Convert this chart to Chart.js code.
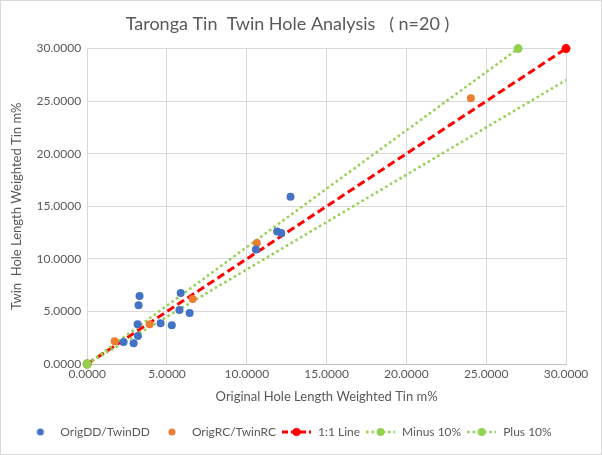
<!DOCTYPE html>
<html><head><meta charset="utf-8">
<script src="https://cdn.jsdelivr.net/npm/chart.js@4.4.1/dist/chart.umd.min.js"></script>
<style>
html,body{margin:0;padding:0;background:#fff;}
#wrap{position:absolute;left:0;top:0;width:600px;height:453px;border:1px solid #d9d9d9;}
</style></head>
<body><div id="wrap"><canvas id="c" width="600" height="453"></canvas></div>
<script>
const ddX = [3.28, 3.22, 5.86, 5.78, 6.42, 3.16, 4.60, 5.30, 3.18, 2.28, 2.91, 12.74, 11.90, 12.16, 10.57];
const ddY = [6.47, 5.60, 6.75, 5.13, 4.84, 3.79, 3.88, 3.69, 2.67, 2.10, 1.97, 15.90, 12.60, 12.45, 10.90];
const rcX = [6.61, 3.91, 1.72, 10.63, 24.04];
const rcY = [6.18, 3.79, 2.17, 11.50, 25.28];
const oneX = [0, 30], oneY = [0, 30];
const minusX = [0, 33.333], minusY = [0, 30];
const plusX = [0, 27], plusY = [0, 30];
const ticks = [0, 5, 10, 15, 20, 25, 30];

const zip = (xs, ys) => xs.map((x, i) => ({x: x, y: ys[i]}));
const grey = '#595959';
const FONT = 'Lato';
const ICON_W = 31;

function legendIcon(kind, color) {
  const c = document.createElement('canvas');
  const w = ICON_W, h = 12;
  c.width = w; c.height = h;
  const g = c.getContext('2d');
  if (kind === 'dot') {
    g.fillStyle = color; g.beginPath(); g.arc(17, 6, 3.5, 0, Math.PI * 2); g.fill();
  } else {
    g.strokeStyle = color;
    if (kind === 'dash') { g.lineWidth = 3; g.setLineDash([6, 3]); }
    else { g.lineWidth = 2.5; g.setLineDash([2.5, 3]); }
    g.beginPath(); g.moveTo(1, 6); g.lineTo(w - 1, 6); g.stroke();
    g.setLineDash([]);
    g.fillStyle = color; g.beginPath(); g.arc(w / 2, 6, 4, 0, Math.PI * 2); g.fill();
  }
  return c;
}
const icons = [legendIcon('dot', '#4472C4'), legendIcon('dot', '#ED7D31'),
  legendIcon('dash', '#FF0000'), legendIcon('dots', '#92D050'), legendIcon('dots', '#92D050')];

new Chart(document.getElementById('c'), {
  type: 'scatter',
  data: {
    datasets: [
      {label: 'OrigDD/TwinDD', data: zip(ddX, ddY), backgroundColor: '#4472C4', borderColor: '#4472C4', pointRadius: 4, pointHoverRadius: 4, pointBorderWidth: 0, order: 1},
      {label: 'OrigRC/TwinRC', data: zip(rcX, rcY), backgroundColor: '#ED7D31', borderColor: '#ED7D31', pointRadius: 4, pointHoverRadius: 4, pointBorderWidth: 0, order: 1},
      {label: '1:1 Line', data: zip(oneX, oneY), showLine: true, borderColor: '#FF0000', backgroundColor: '#FF0000', borderWidth: 3, borderDash: [8, 4], pointRadius: 4.5, pointBorderWidth: 0, clip: false, order: 3},
      {label: 'Minus 10%', data: zip(minusX, minusY), showLine: true, borderColor: '#92D050', backgroundColor: '#92D050', borderWidth: 2.5, borderDash: [2.5, 3], pointRadius: 4.5, pointBorderWidth: 0, clip: {left: 10, bottom: 10, top: 0, right: 0}, order: 2},
      {label: 'Plus 10%', data: zip(plusX, plusY), showLine: true, borderColor: '#92D050', backgroundColor: '#92D050', borderWidth: 2.5, borderDash: [2.5, 3], pointRadius: 4.5, pointBorderWidth: 0, clip: false, order: 2}
    ]
  },
  options: {
    responsive: false,
    animation: false,
    layout: {padding: {left: 8, right: 35, top: 10, bottom: 6}},
    plugins: {
      title: {display: true, text: 'Taronga Tin  Twin Hole Analysis   ( n=20 )', color: grey,
        font: {family: FONT, size: 18, weight: 'normal'}, padding: {top: 2, bottom: 14}},
      legend: {position: 'bottom', labels: {
        color: grey, font: {family: FONT, size: 12}, usePointStyle: true, pointStyleWidth: ICON_W, padding: 5,
        generateLabels: (chart) => chart.data.datasets.map((d, i) => ({
          text: d.label, pointStyle: icons[i], fillStyle: d.backgroundColor, strokeStyle: d.borderColor,
          lineWidth: 0, hidden: false, datasetIndex: i, fontColor: grey
        }))
      }},
      tooltip: {enabled: false}
    },
    scales: {
      x: {type: 'linear', min: 0, max: 30,
        afterBuildTicks: (ax) => { ax.ticks = ticks.map(v => ({value: v})); },
        ticks: {color: grey, font: {family: FONT, size: 12}, callback: v => v.toFixed(4), padding: 3},
        grid: {color: '#d9d9d9', drawTicks: false}, border: {color: '#bfbfbf'},
        title: {display: true, text: 'Original Hole Length Weighted Tin m%', color: grey, font: {family: FONT, size: 13}, padding: {top: 5, bottom: 16}}
      },
      y: {type: 'linear', min: 0, max: 30,
        afterBuildTicks: (ax) => { ax.ticks = ticks.map(v => ({value: v})); },
        ticks: {color: grey, font: {family: FONT, size: 12}, callback: v => v.toFixed(4), padding: 6},
        grid: {color: '#d9d9d9', drawTicks: false}, border: {display: false},
        title: {display: true, text: 'Twin  Hole Length Weighted Tin m%', color: grey, font: {family: FONT, size: 13}, padding: {top: 0, bottom: 6}}
      }
    }
  }
});
</script></body></html>
